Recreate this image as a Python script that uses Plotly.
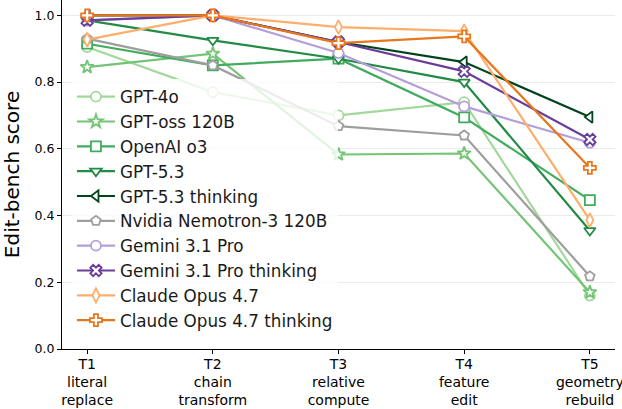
import plotly.graph_objects as go

categories = ["T1", "T2", "T3", "T4", "T5"]
tick_labels = ["T1<br>literal<br>replace", "T2<br>chain<br>transform", "T3<br>relative<br>compute",
               "T4<br>feature<br>edit", "T5<br>geometry<br>rebuild"]

gpt_4o = [0.905, 0.77, 0.70, 0.74, 0.16]
gpt_oss_120b = [0.845, 0.885, 0.583, 0.586, 0.17]
openai_o3 = [0.915, 0.85, 0.87, 0.694, 0.446]
gpt_5_3 = [0.985, 0.925, 0.87, 0.80, 0.355]
gpt_5_3_thinking = [1.0, 1.0, 0.92, 0.86, 0.695]
nemotron_3_120b = [0.93, 0.85, 0.668, 0.64, 0.218]
gemini_3_1_pro = [0.985, 1.0, 0.887, 0.727, 0.618]
gemini_3_1_pro_thinking = [0.985, 1.0, 0.92, 0.832, 0.628]
claude_opus_4_7 = [0.927, 1.0, 0.965, 0.953, 0.386]
claude_opus_4_7_thinking = [1.0, 1.0, 0.917, 0.937, 0.543]

series = [
    ("GPT-4o", gpt_4o, "#a1d99b", "circle"),
    ("GPT-oss 120B", gpt_oss_120b, "#74c476", "star"),
    ("OpenAI o3", openai_o3, "#41ab5d", "square"),
    ("GPT-5.3", gpt_5_3, "#238b45", "triangle-down"),
    ("GPT-5.3 thinking", gpt_5_3_thinking, "#00441b", "triangle-left"),
    ("Nvidia Nemotron-3 120B", nemotron_3_120b, "#9e9e9e", "pentagon"),
    ("Gemini 3.1 Pro", gemini_3_1_pro, "#b39ddb", "circle"),
    ("Gemini 3.1 Pro thinking", gemini_3_1_pro_thinking, "#6a3d9a", "x"),
    ("Claude Opus 4.7", claude_opus_4_7, "#fdae6b", "diamond-tall"),
    ("Claude Opus 4.7 thinking", claude_opus_4_7_thinking, "#e8761c", "cross"),
]

fig = go.Figure()
for name, vals, color, sym in series:
    fig.add_trace(go.Scatter(
        x=categories, y=vals, name=name, mode="lines+markers",
        line=dict(color=color, width=2.2),
        marker=dict(symbol=sym, size=10, color="white",
                    line=dict(color=color, width=1.8)),
    ))

font_family = "DejaVu Sans"
fig.update_layout(
    width=622, height=409,
    margin=dict(l=62, r=7, t=0, b=60, autoexpand=False),
    paper_bgcolor="white", plot_bgcolor="white",
    font=dict(family=font_family, color="black"),
    showlegend=True,
    legend=dict(x=0.018, y=0.773, xanchor="left", yanchor="top",
                itemwidth=38,
                bgcolor="rgba(255,255,255,0.8)", borderwidth=0,
                font=dict(size=16.8, family=font_family, color="#1a1a1a")),
    xaxis=dict(
        type="category", range=[-0.2, 4.2], automargin=False,
        tickmode="array", tickvals=categories, ticktext=tick_labels,
        tickfont=dict(size=14, family=font_family, color="black"),
        ticklabelstandoff=-2,
        showline=True, linecolor="black", linewidth=1.2,
        ticks="outside", ticklen=4, tickcolor="black",
        showgrid=False, zeroline=False,
    ),
    yaxis=dict(
        range=[0, 1.046], automargin=False,
        tickmode="array", tickvals=[0, 0.2, 0.4, 0.6, 0.8, 1.0],
        tickformat=".1f",
        tickfont=dict(size=12.5, family=font_family, color="black"),
        showline=True, linecolor="black", linewidth=1.2,
        ticks="outside", ticklen=4, tickcolor="black",
        showgrid=True, gridcolor="#ebebeb", gridwidth=1,
        zeroline=False,
        title=dict(text="Edit-bench score", font=dict(size=20, family=font_family, color="black"),
                   standoff=9),
    ),
)

fig.write_html("out.html", config={"displayModeBar": False},
               post_script="document.body.style.margin='0';")
